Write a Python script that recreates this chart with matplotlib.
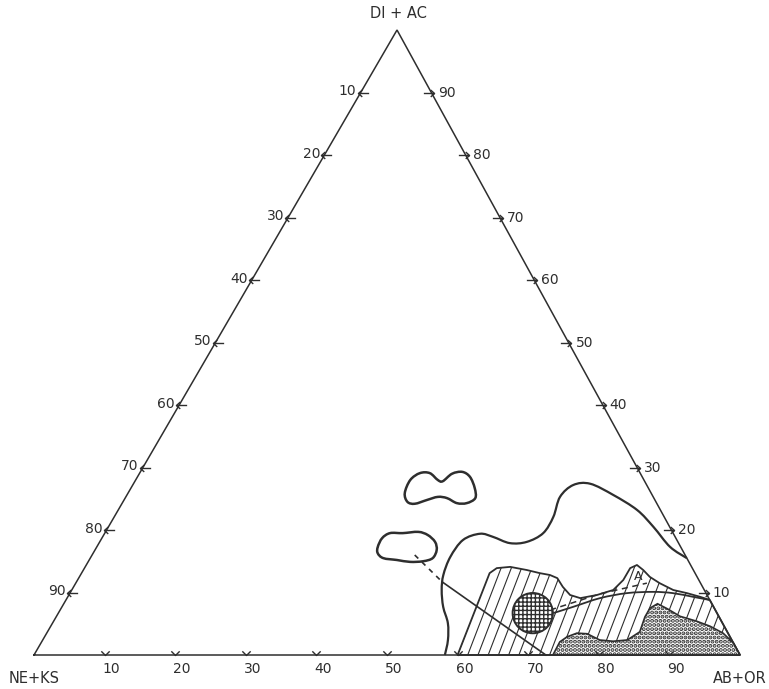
import numpy as np
import matplotlib
matplotlib.use("Agg")
import matplotlib.pyplot as plt
from matplotlib.patches import Polygon, Circle, PathPatch
from matplotlib.path import Path

# ternary coordinates are (AB+OR %, DI+AC %); NE+KS is the remainder
TICKS = [10, 20, 30, 40, 50, 60, 70, 80, 90]

# upper two-lobed field
PEANUT_AB = [39.2, 38.9, 39.7, 41.1, 42.8, 43.6, 44.3, 45.6, 47.1, 48.7,
             49.6, 48.8, 47.4, 45.6, 44.2, 42.9, 41.5, 40.3]
PEANUT_DI = [25.9, 28.0, 29.1, 29.1, 28.0, 27.8, 29.0, 29.3, 28.5, 26.7,
             25.1, 24.3, 24.3, 25.1, 25.3, 24.8, 24.2, 24.5]

# small oval field
OVAL_AB = [39.8, 39.7, 40.4, 42.2, 44.3, 45.9, 47.5, 48.4, 48.5, 47.4,
           45.6, 43.6, 41.5, 40.3]
OVAL_DI = [17.3, 18.7, 19.5, 19.5, 19.7, 19.2, 18.1, 16.8, 15.5, 15.0,
           14.9, 15.2, 15.5, 16.3]

# large open boundary, base to right edge
FIELD_AB = [58.2, 57.4, 56.0, 54.0, 52.4, 51.4, 50.9, 51.3, 53.2, 55.3,
            58.2, 60.5, 62.1, 62.2, 61.5, 62.4, 64.7, 68.9, 73.5, 77.2,
            81.2, 84.5]
FIELD_DI = [0.0, 2.4, 5.1, 7.7, 10.4, 12.8, 15.7, 18.4, 19.4, 18.9,
            17.9, 18.1, 19.5, 22.1, 25.3, 27.2, 27.4, 25.6, 23.2, 20.5,
            17.3, 15.5]

# trend line from the oval towards the base
TIE_DASH_AB = [45.7, 51.8]
TIE_DASH_DI = [16.0, 11.7]
TIE_AB = [51.8, 72.5]
TIE_DI = [11.7, 0.0]

# ruled field
HATCH_AB = [60.0, 57.8, 58.4, 60.2, 62.8, 64.9, 66.5, 67.8, 69.3, 71.0,
            72.7, 74.8, 76.7, 77.3, 77.3, 78.0, 79.3, 80.8, 82.7, 85.2,
            87.4, 89.6, 91.2, 100.0]
HATCH_DI = [0.0, 13.1, 13.9, 14.1, 13.6, 13.1, 12.8, 12.3, 10.9, 9.6,
            9.1, 9.6, 10.4, 12.0, 13.9, 14.4, 13.6, 12.5, 11.5, 10.4,
            9.9, 9.3, 8.8, 0.0]

# solid curve inside the ruled field
TREND_AB = [70.1, 72.4, 75.5, 78.9, 82.5, 85.4, 88.6, 91.2]
TREND_DI = [6.7, 7.7, 9.1, 9.9, 10.1, 9.9, 9.3, 8.8]

# dashed line up to point A
DASH_AB = [69.4, 75.2, 80.9]
DASH_DI = [7.2, 9.8, 11.5]
POINT_A = (79.1, 12.6)

# stippled field along the base
STIPPLE_AB = [73.5, 73.4, 74.0, 75.1, 76.6, 78.9, 80.9, 82.8, 83.9, 83.4,
              83.4, 84.1, 85.9, 88.3, 91.1, 93.4, 95.8, 98.1, 100.0]
STIPPLE_DI = [0.0, 2.1, 2.9, 3.5, 3.4, 2.4, 2.2, 2.4, 3.7, 6.1,
              7.5, 8.2, 7.4, 6.2, 5.4, 4.6, 3.5, 1.9, 0.0]

# cross-ruled round field
CIRCLE_AB, CIRCLE_DI, CIRCLE_R = 67.2, 6.7, 2.85

SKEW = 0.5142
HEIGHT = 0.8853
INK = "#2e2e2e"
FONT = "DejaVu Sans"


def to_xy(ab, di):
    ab = np.asarray(ab, dtype=float)
    di = np.asarray(di, dtype=float)
    return ab + di * SKEW, di * HEIGHT


def closed(ab, di):
    x, y = to_xy(ab, di)
    return np.column_stack([x, y])


def smooth(pts, loop=True):
    """Bezier path through the points (Catmull-Rom tangents)."""
    n = len(pts)
    verts, codes = [pts[0]], [Path.MOVETO]
    for i in range(n if loop else n - 1):
        p1, p2 = pts[i], pts[(i + 1) % n]
        p0 = pts[i - 1] if (loop or i > 0) else p1
        p3 = pts[(i + 2) % n] if (loop or i + 2 < n) else p2
        verts += [p1 + (p2 - p0) / 6, p2 - (p3 - p1) / 6, p2]
        codes += [Path.CURVE4] * 3
    return Path(verts, codes)


plt.rcParams["hatch.linewidth"] = 1.0
fig = plt.figure(figsize=(7.69, 6.89), dpi=100)
ax = fig.add_axes([0, 0, 1, 1])
ax.set_xlim(-4.816, 104.11)
ax.set_ylim(-4.816, 92.78)
ax.set_aspect("equal")
ax.axis("off")

# triangle frame
fx, fy = to_xy([0, 100, 0, 0], [0, 0, 100, 0])
ax.plot(fx, fy, color=INK, lw=1.1, solid_joinstyle="miter", zorder=6)

# tick marks
v_mark = Path([(-1, 1), (0, 0), (1, 1)],
              [Path.MOVETO, Path.LINETO, Path.LINETO])
left_mark = Path([(1.0, 0), (-0.4, 0), (0.1, 0.45), (-0.4, 0), (0.1, -0.45)],
                 [Path.MOVETO, Path.LINETO, Path.LINETO, Path.MOVETO, Path.LINETO])
right_mark = Path([(-1.0, 0), (0.4, 0), (-0.1, 0.45), (0.4, 0), (-0.1, -0.45)],
                  [Path.MOVETO, Path.LINETO, Path.LINETO, Path.MOVETO, Path.LINETO])
t = np.array(TICKS, dtype=float)
mk = dict(ls="none", color=INK, mfc="none", mew=1.0, zorder=7)
bx, by = to_xy(t, 0 * t)
ax.plot(bx, by, marker=v_mark, ms=6, **mk)
lx, ly = to_xy(0 * t, 100 - t)
ax.plot(lx, ly, marker=left_mark, ms=11, **mk)
rx, ry = to_xy(100 - t, t)
ax.plot(rx, ry, marker=right_mark, ms=11, **mk)

lab = dict(fontsize=10, color=INK, family=FONT, textcoords="offset points")
for v, x, y in zip(TICKS, bx, by):
    ax.annotate(str(v), (x, y), xytext=(5, -10), ha="center", va="center", **lab)
for v, x, y in zip(TICKS, lx, ly):
    ax.annotate(str(v), (x, y), xytext=(-3, 1), ha="right", va="center", **lab)
for v, x, y in zip(TICKS, rx, ry):
    ax.annotate(str(v), (x, y), xytext=(5, 0), ha="left", va="center", **lab)

corner = dict(fontsize=10.5, color=INK, family=FONT, textcoords="offset points",
              ha="center", va="center")
ax.annotate("DI + AC", to_xy(0, 100), xytext=(1, 12), **corner)
ax.annotate("NE+KS", to_xy(0, 0), xytext=(0, -17), **corner)
ax.annotate("AB+OR", to_xy(100, 0), xytext=(0, -17), **corner)

# outlined fields
ax.add_patch(PathPatch(smooth(closed(PEANUT_AB, PEANUT_DI)), fill=False,
                       ec=INK, lw=1.8, zorder=4))
ax.add_patch(PathPatch(smooth(closed(OVAL_AB, OVAL_DI)), fill=False,
                       ec=INK, lw=1.8, zorder=4))
ax.add_patch(PathPatch(smooth(closed(FIELD_AB, FIELD_DI), loop=False),
                       fill=False, ec=INK, lw=1.6, zorder=4))

x, y = to_xy(TIE_DASH_AB, TIE_DASH_DI)
ax.plot(x, y, color=INK, lw=1.2, ls=(0, (3, 3)), zorder=4)
x, y = to_xy(TIE_AB, TIE_DI)
ax.plot(x, y, color=INK, lw=1.2, zorder=4)

# ruled field: steep diagonal rules clipped to the outline
hatch_poly = Polygon(closed(HATCH_AB, HATCH_DI), closed=True, fill=False,
                     ec=INK, lw=1.3, joinstyle="round", zorder=3)
ax.add_patch(hatch_poly)
run = 16 / np.tan(np.radians(69))
for x0 in np.arange(48, 106, 1.45):
    ln, = ax.plot([x0, x0 + run], [-1, 15], color=INK, lw=0.8, zorder=2)
    ln.set_clip_path(hatch_poly)

ax.add_patch(PathPatch(smooth(closed(TREND_AB, TREND_DI), loop=False),
                       fill=False, ec=INK, lw=1.3, zorder=5))
x, y = to_xy(DASH_AB, DASH_DI)
ax.plot(x, y, color=INK, lw=1.1, ls=(0, (4, 3)), zorder=5)
ax.annotate("A", to_xy(*POINT_A), ha="center", va="center", fontsize=9,
            color=INK, family=FONT, zorder=6)

# stippled field
stipple = Polygon(closed(STIPPLE_AB, STIPPLE_DI), closed=True, fc="white",
                  ec=INK, lw=1.2, hatch="....", zorder=4)
if hasattr(stipple, "set_hatch_linewidth"):
    stipple.set_hatch_linewidth(2.0)
ax.add_patch(stipple)

# cross-ruled circle
ax.add_patch(Circle(to_xy(CIRCLE_AB, CIRCLE_DI), CIRCLE_R, fc="white",
                    ec=INK, lw=1.4, hatch="++++", zorder=5))

fig.savefig("out.png", dpi=100)
